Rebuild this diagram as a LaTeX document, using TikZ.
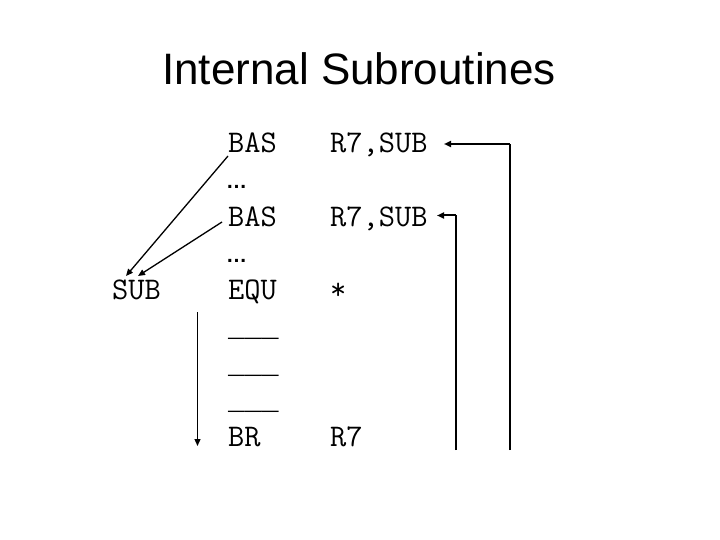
\documentclass[tikz,border=0pt]{standalone}
\usepackage{fontspec}
\setmainfont{Liberation Sans}
\newfontfamily\rulefont{Liberation Mono}
\usetikzlibrary{arrows.meta}
\begin{document}
\begin{tikzpicture}[x=1pt,y=-1pt,
  code/.style={font=\ttfamily\fontsize{31.5}{31.5}\selectfont,inner sep=0pt,anchor=base west},
  blank/.style={font=\rulefont\fontsize{28}{28}\selectfont,inner sep=0pt,anchor=base west},
  dotsty/.style={font=\bfseries\fontsize{21}{21}\selectfont,inner sep=0pt,anchor=base west},
  ttl/.style={font=\fontsize{44}{44}\selectfont,inner sep=0pt,anchor=base},
  thin arrow/.style={line width=1.3pt,-{Triangle[length=7pt,width=6pt]}},
  thick arrow/.style={line width=2pt,-{Triangle[length=7pt,width=6pt]}},
  thick line/.style={line width=2pt}]
\useasboundingbox (0,0) rectangle (720,540);
\node[ttl] (title) at (359,85) {Internal Subroutines};
% left column
\node[code] (bas1) at (228,153) {BAS};
\node[dotsty] (dots1) at (226,189) {…};
\node[code] (bas2) at (228,226) {BAS};
\node[dotsty] (dots2) at (226,262) {…};
\node[code] (equ) at (228,299) {EQU};
\node[blank] (l1) at (228,336) {\_\_\_};
\node[blank] (l2) at (228,373) {\_\_\_};
\node[blank] (l3) at (228,409) {\_\_\_};
\node[code] (br) at (228,446) {BR};
% right column
\node[code] (op1) at (330,153) {R7,SUB};
\node[code] (op2) at (330,226) {R7,SUB};
\node[code] (star) at (330,299) {*};
\node[code] (op3) at (330,446) {R7};
% label
\node[code] (sub) at (112,299) {SUB};
% connectors
\coordinate (a1s) at (228,156);
\coordinate (a1e) at (126,276);
\coordinate (a2s) at (222,222);
\coordinate (a2e) at (138,276);
\draw[thin arrow] (a1s) -- (a1e);
\draw[thin arrow] (a2s) -- (a2e);
\coordinate (ds) at (197.5,312);
\coordinate (de) at (197.5,446);
\draw[thin arrow] (ds) -- (de);
% return arrows
\coordinate (r1b) at (509.5,450);
\coordinate (r1c) at (509.5,144);
\coordinate (r1e) at (444,144);
\coordinate (r2b) at (455.5,450);
\coordinate (r2c) at (455.5,215.5);
\coordinate (r2e) at (437,215.5);
\draw[thick line] (r1b) -- (r1c);
\draw[thick arrow] (r1c) -- (r1e);
\draw[thick line] (r2b) -- (r2c);
\draw[thick arrow] (r2c) -- (r2e);
\end{tikzpicture}
\end{document}
